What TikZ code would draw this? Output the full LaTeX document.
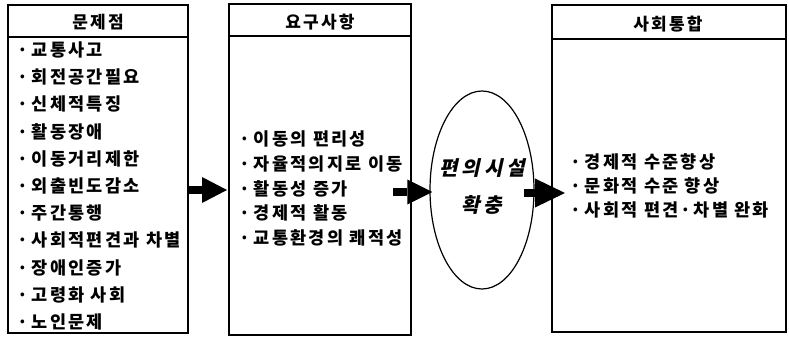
\documentclass[tikz,border=0pt]{standalone}
\usepackage{fontspec}
\usetikzlibrary{arrows.meta,shapes.geometric}
\newfontfamily\cjk[LetterSpace=13]{Noto Sans CJK KR}
\newfontfamily\cjkit[LetterSpace=20,FakeSlant=0.22]{Noto Sans CJK KR}
\begin{document}
\begin{tikzpicture}[x=1pt,y=-1pt,
  box/.style={draw,line width=1.2pt,rectangle,inner sep=0pt,outer sep=0pt},
  hdr/.style={font=\cjk\bfseries\fontsize{17}{20}\selectfont,inner sep=0pt},
  item/.style={anchor=west,inner sep=0pt,font=\cjk\bfseries\fontsize{17.5}{20}\selectfont},
]
\useasboundingbox (0,0) rectangle (789,339);
% boxes
\node[box,minimum width=180pt,minimum height=328pt] (b1) at (98,169) {};
\node[box,minimum width=182pt,minimum height=331pt] (b2) at (320,169.5) {};
\node[box,minimum width=234pt,minimum height=327pt] (b3) at (669,168.5) {};
\draw[line width=1.2pt] ([yshift=-32pt]b1.north west) -- ([yshift=-32pt]b1.north east);
\draw[line width=1.2pt] ([yshift=-32pt]b2.north west) -- ([yshift=-32pt]b2.north east);
\draw[line width=1.2pt] ([yshift=-34pt]b3.north west) -- ([yshift=-34pt]b3.north east);
% headers
\node[hdr] (h1) at (98,22) {문제점};
\node[hdr] (h2) at (320,22) {요구사항};
\node[hdr] (h3) at (668,24) {사회통합};
% items box 1
\foreach \t [count=\i] in {교통사고,회전공간필요,신체적특징,활동장애,이동거리제한,외출빈도감소,주간통행,사회적편견과 차별,장애인증가,고령화 사회,노인문제}
  {\node[item] (p\i) at (17,{50+27.2*(\i-1)}) {·\hspace{4pt}\t};}
% items box 2
\foreach \t [count=\i] in {이동의 편리성,자율적의지로 이동,활동성 증가,경제적 활동,교통환경의 쾌적성}
  {\node[item] (q\i) at (239,{139+24.75*(\i-1)}) {·\hspace{4pt}\t};}
% items box 3
\foreach \t [count=\i] in {경제적 수준향상,문화적 수준 향상,사회적 편견·차별 완화}
  {\node[item] (r\i) at (570,{162+24*(\i-1)}) {·\hspace{4pt}\t};}
% ellipse
\node[draw,ellipse,line width=1.2pt,minimum width=104pt,minimum height=198pt,inner sep=0pt] (ell) at (482,190) {};
\node[align=center,inner sep=0pt,font=\cjkit\bfseries\fontsize{20}{37}\selectfont] (et) at (482,186.5) {편의시설\\확충};
% arrows
\draw[line width=7pt,-{Triangle[length=25pt,width=26pt,line width=0pt]}]
  (b1.east |- 0,190) -- ([xshift=-2pt]b2.west |- 0,190);
\draw[line width=7pt,-{Triangle[length=25pt,width=25pt,line width=0pt]}]
  ([xshift=-18pt]b2.east |- 0,192) -- ([xshift=3pt]ell.west |- 0,192);
\draw[line width=8pt,-{Triangle[length=30pt,width=29pt,line width=0pt]}]
  ([xshift=-11pt]ell.east |- 0,193) -- ([xshift=13pt]b3.west |- 0,193);
\end{tikzpicture}
\end{document}
